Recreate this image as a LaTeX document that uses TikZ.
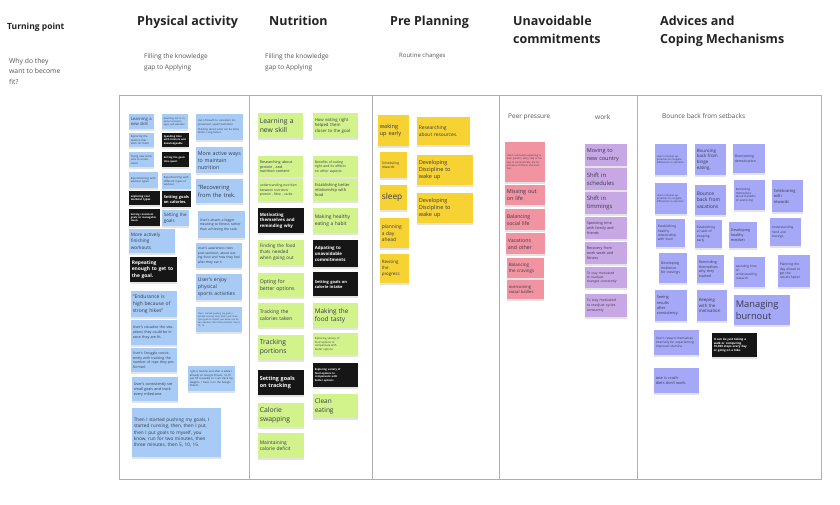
\documentclass[tikz,border=0pt]{standalone}
\usepackage{fontspec}
\setmainfont{Open Sans}
\usetikzlibrary{shadows}
\definecolor{stblue}{RGB}{167,203,244}
\definecolor{stgreen}{RGB}{210,242,140}
\definecolor{styellow}{RGB}{246,210,50}
\definecolor{stpink}{RGB}{241,147,160}
\definecolor{stpurple}{RGB}{200,168,228}
\definecolor{stperi}{RGB}{164,168,246}
\definecolor{stblack}{RGB}{22,22,22}
\definecolor{sttext}{RGB}{55,58,75}
\definecolor{frameline}{RGB}{175,175,175}
\definecolor{subtext}{RGB}{85,85,85}
\definecolor{headtext}{RGB}{35,35,35}
\tikzset{
  note/.style={draw=none, align=left, text=sttext,
    drop shadow={shadow xshift=0pt, shadow yshift=-1.3pt, opacity=.22}},
  nblue/.style={note, fill=stblue},
  ngreen/.style={note, fill=stgreen},
  nyellow/.style={note, fill=styellow},
  npink/.style={note, fill=stpink},
  npurple/.style={note, fill=stpurple},
  nperi/.style={note, fill=stperi},
  nblack/.style={note, fill=stblack, text=white, execute at begin node=\bfseries},
  board/.style={draw=frameline, line width=0.8pt},
  heading/.style={anchor=north west, align=left, text=headtext, inner sep=0pt,
    font=\fontsize{12.5}{18}\selectfont\bfseries},
  subhead/.style={anchor=north west, align=left, text=subtext, inner sep=0pt,
    font=\fontsize{6.5}{11}\selectfont},
}
\newcommand\stk[8]{%
  \pgfmathsetmacro\stkw{#5-3.2}%
  \pgfmathsetmacro\stkb{#7*1.32}%
  \node[#2, anchor=north west, minimum width=#5pt, minimum height=#6pt,
    text width=\stkw pt, inner xsep=1.6pt, inner ysep=0.5pt,
    font=\fontsize{#7}{\stkb}\selectfont] (#1) at (#3,#4) {#8};}
\begin{document}
\begin{tikzpicture}[x=1pt,y=-1pt]
\useasboundingbox (0,0) rectangle (840,504);
\fill[white] (0,0) rectangle (840,504);

% ---------- headings ----------
\node[heading, font=\fontsize{8.5}{10}\selectfont\bfseries] (tp) at (7,23) {Turning point};
\node[subhead, font=\fontsize{6.8}{10.6}\selectfont] (why) at (9,58) {Why do they\\want to become\\fit?};
\node[heading] (hpa) at (137,16) {Physical activity};
\node[heading] (hnu) at (269,16) {Nutrition};
\node[heading] (hpp) at (390,16) {Pre Planning};
\node[heading] (hua) at (513,16) {Unavoidable\\commitments};
\node[heading] (hac) at (660,16) {Advices and\\Coping Mechanisms};
\node[subhead] (spa) at (144,53) {Filling the knowledge\\gap to Applying};
\node[subhead] (snu) at (265,53) {Filling the knowledge\\gap to Applying};
\node[subhead, font=\fontsize{6}{10}\selectfont] (spp) at (399,53) {Routine changes};

% ---------- board ----------
\draw[board] (119,95) rectangle (821,479);
\draw[board] (249.5,95) -- (249.5,479);
\draw[board] (372,95) -- (372,479);
\draw[board] (499.5,95) -- (499.5,479);
\draw[board] (637,95) -- (637,479);

% ---------- Physical activity ----------
\stk{p1}{nblue}{129}{114}{25}{15}{4.2}{Learning a\\new skill}
\stk{p2}{nblue}{162}{114}{26}{15}{2.4}{Reaching out to internet accounts, apps and websites}
\stk{p3}{nblue}{196}{114}{47}{26}{2.6}{Out of breath to consistent improvement, experimentation.\\[1.5pt]Thinking about what can be done better, Long better.}
\stk{p4}{nblue}{129}{133}{25}{14}{2.7}{Exploring the options that work for them}
\stk{p5}{nblack}{162}{133}{27}{14}{2.5}{Spending time with trainers and knowledgeable}
\stk{p6}{nblue}{129}{152}{25}{15}{2.7}{Trying new workouts to understand}
\stk{p7}{nblack}{162}{152}{27}{15}{2.5}{Setting the goals time spent}
\stk{p8}{nblue}{196}{147}{47}{26}{5.3}{More active ways\\to maintain\\nutrition}
\stk{p9}{nblue}{129}{172}{29}{16}{2.7}{Experimenting with workout types}
\stk{p10}{nblue}{162}{173}{29}{16}{2.7}{Experimenting with different types of workout}
\stk{p11}{nblue}{196}{179}{47}{24}{5.8}{“Recovering\\from the trek.}
\stk{p12}{nblack}{129}{191}{31}{14}{2.7}{exploring real\\workout types}
\stk{p13}{nblack}{162}{191}{29}{16}{3.9}{Setting goals\\on calories.}
\stk{p14}{nblack}{129}{209}{31}{17}{2.5}{Setting consistent goals on managable levels}
\stk{p15}{nblue}{162}{210}{27}{16}{4.5}{Setting the\\goals}
\stk{p16}{nblue}{198}{211}{47}{27}{3.4}{User's attach a bigger meaning to fitness rather than achieving the task.}
\stk{p17}{nblue}{129}{229}{46}{24}{4.7}{More actively\\finishing\\workouts}
\stk{p18}{nblue}{196}{243}{46}{25}{3.3}{User's awareness rises post workout, about eating food and how they feel after they eat it}
\stk{p19}{nblack}{130}{257}{47}{25}{4.9}{Repeating\\enough to get to\\the goal.}
\stk{p20}{nblue}{196}{274}{46}{26}{5.1}{User's enjoy\\physical\\sports activities}
\stk{p21}{nblue}{131}{291}{46}{26}{5}{“Endurance is\\high because of\\strong hikes”}
\stk{p22}{nblue}{196}{307}{46}{25}{2.2}{Then I started pushing my goals, I started running, then, then I put, then I put goals to myself, you know, run for two minutes, then three minutes, then 5, 10, 15.}
\stk{p23}{nblue}{131}{320}{46}{25}{3.6}{User's visualize the situations they could be in once they are fit.}
\stk{p24}{nblue}{131}{348}{46}{24}{3.5}{User's Struggle consistently with tracking the number of reps they performed.}
\stk{p25}{nblue}{188}{366}{47}{25}{2.7}{I got a routine and after a while I already on Google Sheets. So I'll just fill it weekly so I can track my weights. I have it on the Google Sheets.}
\stk{p26}{nblue}{132}{377}{46}{24}{3.7}{User's consistently set small goals and track every milestone.}
\stk{p27}{nblue}{132}{408}{89}{49}{4.7}{Then I started pushing my goals, I\\started running, then, then I put,\\then I put goals to myself, you\\know, run for two minutes, then\\three minutes, then 5, 10, 15.}

% ---------- Nutrition ----------
\stk{n1}{ngreen}{258}{113}{45}{25}{6.8}{Learning a\\new skill}
\stk{n2}{ngreen}{313}{113}{45}{25}{4.3}{How eating right\\helped them\\closer to the goal}
\stk{n3}{ngreen}{258}{156}{45}{21}{3.7}{Researching about\\protein , and\\nutrition content}
\stk{n4}{ngreen}{313}{156}{45}{21}{3.4}{Benefits of eating\\right and its effects\\on other aspects}
\stk{n5}{ngreen}{258}{179}{45}{22}{3.3}{understanding nutrition\\between nutrients\\protein , fibre , carbs}
\stk{n6}{ngreen}{313}{179}{45}{22}{4}{Establishing better\\relationship with\\food}
\stk{n7}{nblack}{258}{208}{46}{25}{4.4}{Motivating\\themselves and\\reminding why}
\stk{n8}{ngreen}{313}{208}{45}{25}{4.9}{Making healthy\\eating a habit}
\stk{n9}{ngreen}{258}{240}{46}{25}{4.6}{Finding the food\\thats needed\\when going out}
\stk{n10}{nblack}{313}{240}{45}{27}{4.4}{Adpating to\\unavoidable\\commitments}
\stk{n11}{ngreen}{258}{273}{46}{24}{5.2}{Opting for\\better options}
\stk{n12}{nblack}{313}{272}{45}{24}{4}{Setting goals on\\calorie intake}
\stk{n13}{ngreen}{258}{303}{46}{24}{5}{Tracking the\\calories taken}
\stk{n14}{ngreen}{313}{303}{45}{25}{6.4}{Making the\\food tasty}
\stk{n15}{ngreen}{258}{335}{46}{25}{6.8}{Tracking\\portions}
\stk{n16}{ngreen}{313}{333}{45}{22}{2.7}{Exploring variety of\\food options to\\compensate with\\better options}
\stk{n17}{nblack}{313}{363}{45}{24}{2.6}{Exploring variety of\\food options to\\compensate with\\better options}
\stk{n18}{nblack}{258}{370}{46}{25}{5.4}{Setting goals\\on tracking}
\stk{n19}{ngreen}{313}{394}{45}{24}{6.5}{Clean\\eating}
\stk{n20}{ngreen}{258}{403}{46}{24}{6.8}{Calorie\\swapping}
\stk{n21}{ngreen}{258}{433}{46}{25}{4.9}{Maintaining\\calorie deficit}

% ---------- Pre Planning ----------
\stk{y1}{nyellow}{378}{115}{31}{31}{5.6}{waking\\up early}
\stk{y2}{nyellow}{417}{117}{53}{28}{4.9}{Researching\\about resources.}
\stk{y3}{nyellow}{380}{152}{27}{26}{3.4}{Scheduling\\rewards}
\stk{y4}{nyellow}{417}{155}{56}{30}{5.5}{Developing\\Discipline to\\wake up}
\stk{y5}{nyellow}{380}{185}{27}{25}{8.3}{sleep}
\stk{y6}{nyellow}{417}{193}{56}{30}{5.5}{Developing\\Discipline to\\wake up}
\stk{y7}{nyellow}{380}{218}{29}{30}{4.9}{planning\\a day\\ahead}
\stk{y8}{nyellow}{380}{254}{29}{29}{4.4}{Revising\\the\\progress}

% ---------- Unavoidable commitments ----------
\node[subhead, font=\fontsize{6.5}{8}\selectfont] (peer) at (508,114) {Peer pressure};
\node[subhead, font=\fontsize{6.5}{8}\selectfont] (work) at (595,114) {work};
\stk{u1}{npink}{505}{142}{40}{40}{2.4}{User's constantly explaining to their parents, every step of the way to communicate, the importance of fitness and nutrition.}
\stk{u2}{npink}{505}{185}{40}{20}{5.5}{Missing out\\on life}
\stk{u3}{npink}{505}{209}{40}{21}{5.2}{Balancing\\social life}
\stk{u4}{npink}{506}{233}{39}{21}{5.2}{Vacations\\and other}
\stk{u5}{npink}{507}{258}{37}{20}{4.5}{Balancing\\the cravings}
\stk{u6}{npink}{507}{280}{37}{19}{4.1}{overcoming\\social batlles}
\stk{v1}{npurple}{585}{144}{42}{22}{5.5}{Moving to\\new country}
\stk{v2}{npurple}{585}{168}{42}{22}{5.9}{Shift in\\schedules}
\stk{v3}{npurple}{585}{192}{42}{22}{5.9}{Shift in\\timmings}
\stk{v4}{npurple}{585}{217}{42}{22}{3.7}{Spending time\\with family and\\friends}
\stk{v5}{npurple}{585}{242}{42}{22}{3.7}{Recovery from\\work week and\\fitness}
\stk{v6}{npurple}{585}{267}{42}{21}{3.3}{To stay motivated\\to readjust\\changes constantly}
\stk{v7}{npurple}{585}{294}{42}{23}{3.5}{To stay motivated\\to readjust cycles\\constantly}

% ---------- Advices and Coping Mechanisms ----------
\node[subhead, font=\fontsize{6.5}{8}\selectfont] (bounce) at (662,113) {Bounce back from setbacks};
\stk{a1}{nperi}{655}{144}{32}{31}{2.5}{User's mindset approaches to navigate differences in opinions.}
\stk{a2}{nperi}{695}{144}{31}{31}{4.4}{Bouncing\\back from\\binge\\eating.}
\stk{a3}{nperi}{733}{144}{32}{29}{3.4}{Overcoming\\demotivation}
\stk{a4}{nperi}{655}{183}{32}{31}{2.5}{User's mindset approaches to navigate differences in opinions.}
\stk{a5}{nperi}{695}{185}{31}{30}{4.9}{Bounce\\back from\\vacations}
\stk{a6}{nperi}{734}{180}{31}{30}{2.9}{Reminding\\themselves\\about benefits\\of exercising}
\stk{a7}{nperi}{772}{180}{31}{32}{4.1}{Celebrating\\with\\rewards}
\stk{a8}{nperi}{656}{219}{29}{28}{3.3}{Establishing\\healthy\\relationship\\with food}
\stk{a9}{nperi}{695}{220}{27}{28}{3.3}{Establishing\\a habit of\\sleeping\\early}
\stk{a10}{nperi}{729}{222}{28}{26}{3.7}{Developing\\healthy\\mindset}
\stk{a11}{nperi}{770}{218}{31}{28}{3.1}{Understanding\\mind and\\cravings}
\stk{a12}{nperi}{659}{253}{28}{30}{3.5}{Developing\\resilience\\for cravings}
\stk{a13}{nperi}{697}{255}{27}{28}{3.6}{Reminding\\themselves\\why they\\started}
\stk{a14}{nperi}{734}{257}{31}{30}{3.1}{spending time\\on\\understanding\\research}
\stk{a15}{nperi}{778}{255}{32}{32}{3.3}{Planning the\\day ahead to\\get the\\results faster}
\stk{a16}{nperi}{655}{290}{32}{31}{3.9}{Seeing\\results\\after\\consistency}
\stk{a17}{nperi}{697}{290}{30}{31}{4.3}{Keeping\\with the\\motivation}
\stk{a18}{nperi}{734}{295}{56}{30}{9.3}{Managing\\burnout}
\stk{a19}{nperi}{654}{330}{45}{25}{3.1}{User's reward themselves internally for experiencing improved stamina}
\stk{a20}{nblack}{712}{333}{45}{24}{2.9}{It can be just taking a\\walk or computing\\10,000 steps every day\\or going on a bike.}
\stk{a21}{nperi}{654}{368}{45}{25}{3.9}{one is crash\\diets don't work.}
\end{tikzpicture}
\end{document}
